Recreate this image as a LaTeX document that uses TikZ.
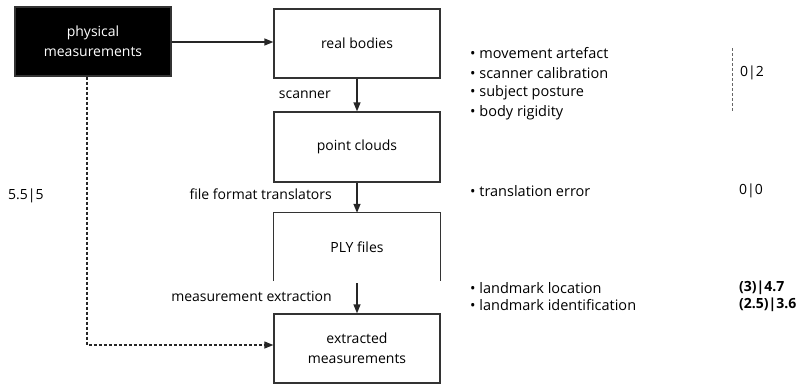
\documentclass[tikz,border=0pt]{standalone}
\usepackage{fontspec}
\setmainfont{Open Sans}
\usetikzlibrary{arrows.meta}
\begin{document}
\begin{tikzpicture}[x=1pt,y=-1pt,
  font=\fontsize{14}{20}\selectfont,
  box/.style={draw=black!80,line width=1.3pt,minimum width=166pt,inner sep=0pt,align=center},
  openbox/.style={minimum width=166pt,inner sep=0pt,align=center},
  arr/.style={line width=1.3pt,draw=black!85,-{Triangle[length=9pt,width=7pt]}},
  lbl/.style={anchor=east,inner sep=0pt},
  note/.style={anchor=west,inner sep=0pt,align=left,font=\fontsize{14.5}{20}\selectfont},
  num/.style={anchor=west,inner sep=0pt}]
\useasboundingbox (0,0) rectangle (803,384);
\node[box,fill=black,text=white,minimum width=156pt,minimum height=69pt] (phys) at (93,41.5) {physical\\measurements};
\node[box,minimum height=69pt] (real) at (357,43.5) {real bodies};
\node[box,minimum height=70pt] (point) at (357,147) {point clouds};
\node[openbox,minimum height=68pt] (ply) at (357,247) {PLY files};
\draw[draw=black!80,line width=1.3pt] (ply.south west) -- (ply.north west) -- (ply.north east) -- (ply.south east);
\node[box,minimum height=69pt] (ext) at (357,348.5) {extracted\\measurements};
\draw[arr] (phys.east |- 0,42) -- (real.west |- 0,42);
\draw[arr] (real) -- (point);
\draw[arr] (point) -- (ply);
\path (ply.south) ++(0,2) coordinate (plyb);
\draw[arr] (plyb) -- (ext.north);
\coordinate (corner) at (87,345);
\draw[arr,dashed,dash pattern=on 3pt off 2pt,line width=1.1pt] (phys.south -| corner) -- (corner) -- (ext.west |- corner);
\node[lbl] (scanner) at (331,95) {scanner};
\node[lbl] (fft) at (332,194) {file format translators};
\node[lbl] (mext) at (332,296) {measurement extraction};
\node[num] (n55) at (8,196) {5.5|5};
\node[note] (b1) at (470,53) {• movement artefact};
\node[note] (b2) at (470,73) {• scanner calibration};
\node[note] (b3) at (470,93) {• subject posture};
\node[note] (b4) at (470,112.5) {• body rigidity};
\node[note] (b5) at (470,191) {• translation error};
\node[note] (b6) at (470,288) {• landmark location};
\node[note] (b7) at (470,305) {• landmark identification};
\coordinate (dtop) at (732,48);
\coordinate (dbot) at (732,111);
\draw[black!60,line width=0.8pt,dash pattern=on 3pt off 2pt] (dtop) -- (dbot);
\node[num] (v1) at (740,73) {0|2};
\node[num] (v2) at (739,191) {0|0};
\node[num,font=\fontsize{14}{20}\selectfont\bfseries] (v3) at (739,288) {(3)|4.7};
\node[num,font=\fontsize{14}{20}\selectfont\bfseries] (v4) at (739,305) {(2.5)|3.6};
\end{tikzpicture}
\end{document}
